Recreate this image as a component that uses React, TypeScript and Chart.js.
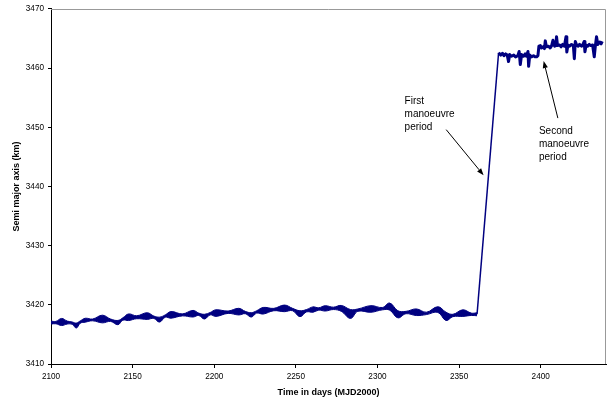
import React, { useEffect, useRef } from 'react';
import { Chart, registerables } from 'chart.js';

Chart.register(...registerables);

// ---- Data ----
// Low-orbit period: band centre and half-thickness (km)
const bandDays = [2100, 2103, 2106.5, 2110, 2113, 2115.5, 2118, 2121, 2125.5, 2131.5, 2136.5, 2141, 2144, 2147.5, 2152.5, 2159, 2163, 2166.5, 2170, 2173.5, 2180.5, 2187, 2190.5, 2194, 2197.5, 2201, 2208.5, 2215, 2219, 2222.7, 2226, 2230, 2236.5, 2243, 2248, 2252.5, 2256.5, 2260.5, 2264, 2268, 2273, 2277.8, 2283.5, 2288, 2296, 2303, 2307.5, 2312.5, 2317.5, 2323.8, 2330, 2337, 2342, 2346.2, 2352.3, 2357.5, 2361];
const bandMid = [3417.0, 3417.0, 3417.1, 3417.0, 3416.9, 3416.5, 3417.1, 3417.4, 3417.45, 3417.6, 3417.4, 3417.0, 3417.6, 3417.9, 3417.9, 3418.1, 3417.9, 3417.5, 3418.1, 3418.3, 3418.3, 3418.5, 3418.4, 3418.0, 3418.5, 3418.6, 3418.75, 3418.85, 3418.7, 3418.3, 3418.8, 3419.0, 3419.2, 3419.4, 3419.2, 3418.5, 3419.0, 3419.2, 3419.3, 3419.4, 3419.4, 3419.4, 3418.45, 3419.1, 3419.3, 3419.35, 3419.7, 3418.4, 3418.7, 3418.75, 3418.55, 3419.2, 3418.05, 3418.2, 3418.6, 3418.4, 3418.4];
const bandHalf = [0.25, 0.2, 0.6, 0.25, 0.2, 0.42, 0.2, 0.33, 0.15, 0.65, 0.2, 0.36, 0.2, 0.56, 0.25, 0.56, 0.2, 0.42, 0.2, 0.56, 0.17, 0.56, 0.2, 0.4, 0.2, 0.56, 0.2, 0.56, 0.2, 0.37, 0.2, 0.56, 0.2, 0.56, 0.2, 0.5, 0.2, 0.45, 0.2, 0.45, 0.2, 0.5, 0.75, 0.2, 0.56, 0.2, 0.6, 0.6, 0.2, 0.56, 0.2, 0.48, 0.7, 0.2, 0.56, 0.2, 0.25];

// First manoeuvre (orbit raising)
const rampDays = [2361.0, 2374.2];
const rampValues = [3418.4, 3462.6];

// High-orbit period
const topDays = [2374.2, 2375.5, 2376.6, 2377.5, 2378.5, 2379.5, 2380.3, 2381.0, 2382.1, 2383.5, 2384.6, 2386.0, 2386.8, 2387.5, 2388.3, 2389.5, 2390.5, 2391.3, 2392.2, 2392.6, 2393.3, 2394.5, 2395.6, 2396.5, 2397.5, 2398.3, 2398.9, 2399.8, 2400.5, 2401.5, 2402.3, 2402.8, 2403.5, 2404.8, 2405.8, 2406.7, 2407.5, 2408.5, 2409.2, 2409.7, 2410.3, 2411.6, 2412.5, 2413.4, 2414.5, 2415.5, 2416.0, 2416.7, 2417.7, 2418.9, 2420.0, 2420.6, 2421.2, 2422.0, 2423.0, 2423.8, 2425.0, 2425.7, 2426.6, 2427.1, 2427.8, 2428.7, 2429.7, 2430.6, 2431.8, 2432.8, 2433.5, 2434.2, 2435.0, 2436.1, 2437.0, 2437.7];
const topValues = [3462.6, 3462.2, 3462.5, 3462.1, 3462.4, 3462.2, 3461.1, 3462.3, 3462.0, 3462.2, 3461.9, 3462.1, 3462.8, 3460.6, 3462.3, 3462.0, 3462.4, 3462.0, 3462.8, 3460.3, 3462.2, 3461.9, 3462.1, 3461.9, 3461.9, 3462.1, 3463.7, 3463.8, 3463.4, 3463.6, 3463.3, 3464.6, 3463.6, 3463.7, 3463.4, 3463.8, 3464.7, 3463.7, 3463.8, 3465.3, 3463.8, 3463.9, 3463.6, 3464.0, 3463.7, 3465.3, 3462.7, 3463.9, 3463.7, 3464.0, 3463.8, 3461.6, 3464.5, 3463.9, 3463.7, 3464.0, 3463.7, 3463.9, 3464.5, 3462.75, 3463.9, 3463.7, 3464.0, 3463.8, 3463.9, 3461.9, 3463.8, 3465.3, 3464.0, 3464.4, 3464.1, 3464.5];

const xTicks = [2100, 2150, 2200, 2250, 2300, 2350, 2400];
const yTicks = [3410, 3420, 3430, 3440, 3450, 3460, 3470];

// Annotations (text anchor, arrow tail and tip in data units)
const notes = [
  { lines: ['First', 'manoeuvre', 'period'], x: 2316.6, y: 3453.9, tail: [2342.1, 3449.6], tip: [2365.0, 3441.9] },
  { lines: ['Second', 'manoeuvre', 'period'], x: 2398.9, y: 3448.8, tail: [2410.5, 3451.55], tip: [2401.8, 3461.2] },
];

const NAVY = '#000080';
const FONT = "'Liberation Sans', Arial, sans-serif";

const framePlugin = {
  id: 'frame',
  afterDatasetsDraw(chart: any) {
    const { ctx, chartArea } = chart;
    ctx.save();
    ctx.strokeStyle = '#999';
    ctx.lineWidth = 1;
    ctx.beginPath();
    const t = Math.round(chartArea.top) + 0.5;
    const r = Math.round(chartArea.right) - 0.5;
    ctx.moveTo(Math.round(chartArea.left), t);
    ctx.lineTo(r, t);
    ctx.lineTo(r, Math.round(chartArea.bottom));
    ctx.stroke();
    ctx.restore();
  },
};

const notesPlugin = {
  id: 'notes',
  afterDraw(chart: any) {
    const { ctx, scales } = chart;
    const xs = scales.x;
    const ys = scales.y;
    ctx.save();
    ctx.fillStyle = '#000';
    ctx.strokeStyle = '#000';
    ctx.font = `10px ${FONT}`;
    ctx.textBaseline = 'alphabetic';
    ctx.textAlign = 'left';
    for (const n of notes) {
      const tx = xs.getPixelForValue(n.x);
      const ty = ys.getPixelForValue(n.y);
      n.lines.forEach((s, i) => ctx.fillText(s, tx, ty + i * 13));
      const x0 = xs.getPixelForValue(n.tail[0]);
      const y0 = ys.getPixelForValue(n.tail[1]);
      const x1 = xs.getPixelForValue(n.tip[0]);
      const y1 = ys.getPixelForValue(n.tip[1]);
      const ang = Math.atan2(y1 - y0, x1 - x0);
      const L = 7, W = 2.6;
      const bx = x1 - L * Math.cos(ang);
      const by = y1 - L * Math.sin(ang);
      ctx.lineWidth = 1;
      ctx.beginPath();
      ctx.moveTo(x0, y0);
      ctx.lineTo(bx, by);
      ctx.stroke();
      ctx.beginPath();
      ctx.moveTo(x1, y1);
      ctx.lineTo(bx + W * Math.sin(ang), by - W * Math.cos(ang));
      ctx.lineTo(bx - W * Math.sin(ang), by + W * Math.cos(ang));
      ctx.closePath();
      ctx.fill();
    }
    ctx.restore();
  },
};

export default function App() {
  const ref = useRef<HTMLCanvasElement>(null);
  useEffect(() => {
    const lower = bandDays.map((d, i) => ({ x: d, y: bandMid[i] - bandHalf[i] }));
    const upper = bandDays.map((d, i) => ({ x: d, y: bandMid[i] + bandHalf[i] }));
    const ramp = rampDays.map((d, i) => ({ x: d, y: rampValues[i] }));
    const top = topDays.map((d, i) => ({ x: d, y: topValues[i] }));
    const chart = new Chart(ref.current as HTMLCanvasElement, {
      type: 'line',
      data: {
        datasets: [
          { data: lower, borderColor: NAVY, borderWidth: 1, pointRadius: 0, tension: 0.4, fill: false },
          { data: upper, borderColor: NAVY, borderWidth: 1, pointRadius: 0, tension: 0.4, fill: '-1', backgroundColor: NAVY },
          { data: ramp, borderColor: NAVY, borderWidth: 1.5, pointRadius: 0, fill: false },
          { data: top, borderColor: NAVY, borderWidth: 3, pointRadius: 0, fill: false, borderJoinStyle: 'round' },
        ],
      } as any,
      options: {
        responsive: false,
        animation: false,
        events: [],
        layout: { padding: { top: 7, right: 9, left: 0, bottom: 0 } },
        plugins: { legend: { display: false }, tooltip: { enabled: false } },
        scales: {
          x: {
            type: 'linear',
            min: 2100,
            max: 2440,
            afterBuildTicks: (s: any) => { s.ticks = xTicks.map((v) => ({ value: v })); },
            afterFit: (s: any) => { s.height = 39; },
            grid: { drawOnChartArea: false, drawTicks: true, tickLength: 4, color: '#000' },
            border: { display: true, color: '#000', width: 1 },
            ticks: { font: { family: FONT, size: 8.2 }, color: '#000', padding: 4, maxRotation: 0, autoSkip: false, callback: (v: any) => String(v) },
            title: { display: true, text: 'Time in days (MJD2000)', font: { family: FONT, size: 9, weight: 'bold' }, color: '#000', padding: { top: 0, bottom: 5 } },
          },
          y: {
            type: 'linear',
            min: 3410,
            max: 3470,
            afterBuildTicks: (s: any) => { s.ticks = yTicks.map((v) => ({ value: v })); },
            afterFit: (s: any) => { s.width = 51; },
            grid: { drawOnChartArea: false, drawTicks: true, tickLength: 3, color: '#000' },
            border: { display: true, color: '#000', width: 1 },
            ticks: { font: { family: FONT, size: 8.2 }, color: '#000', padding: 4, autoSkip: false, callback: (v: any) => String(v) },
            title: { display: true, text: 'Semi major axis (km)', font: { family: FONT, size: 9, weight: 'bold' }, color: '#000', padding: { top: 11.5, bottom: 0 } },
          },
        },
      } as any,
      plugins: [framePlugin, notesPlugin],
    });
    return () => chart.destroy();
  }, []);
  return (
    <div style={{ position: 'fixed', left: 0, top: 0, width: 615, height: 403, background: '#fff' }}>
      <canvas ref={ref} width={615} height={403} style={{ display: 'block' }} />
    </div>
  );
}
